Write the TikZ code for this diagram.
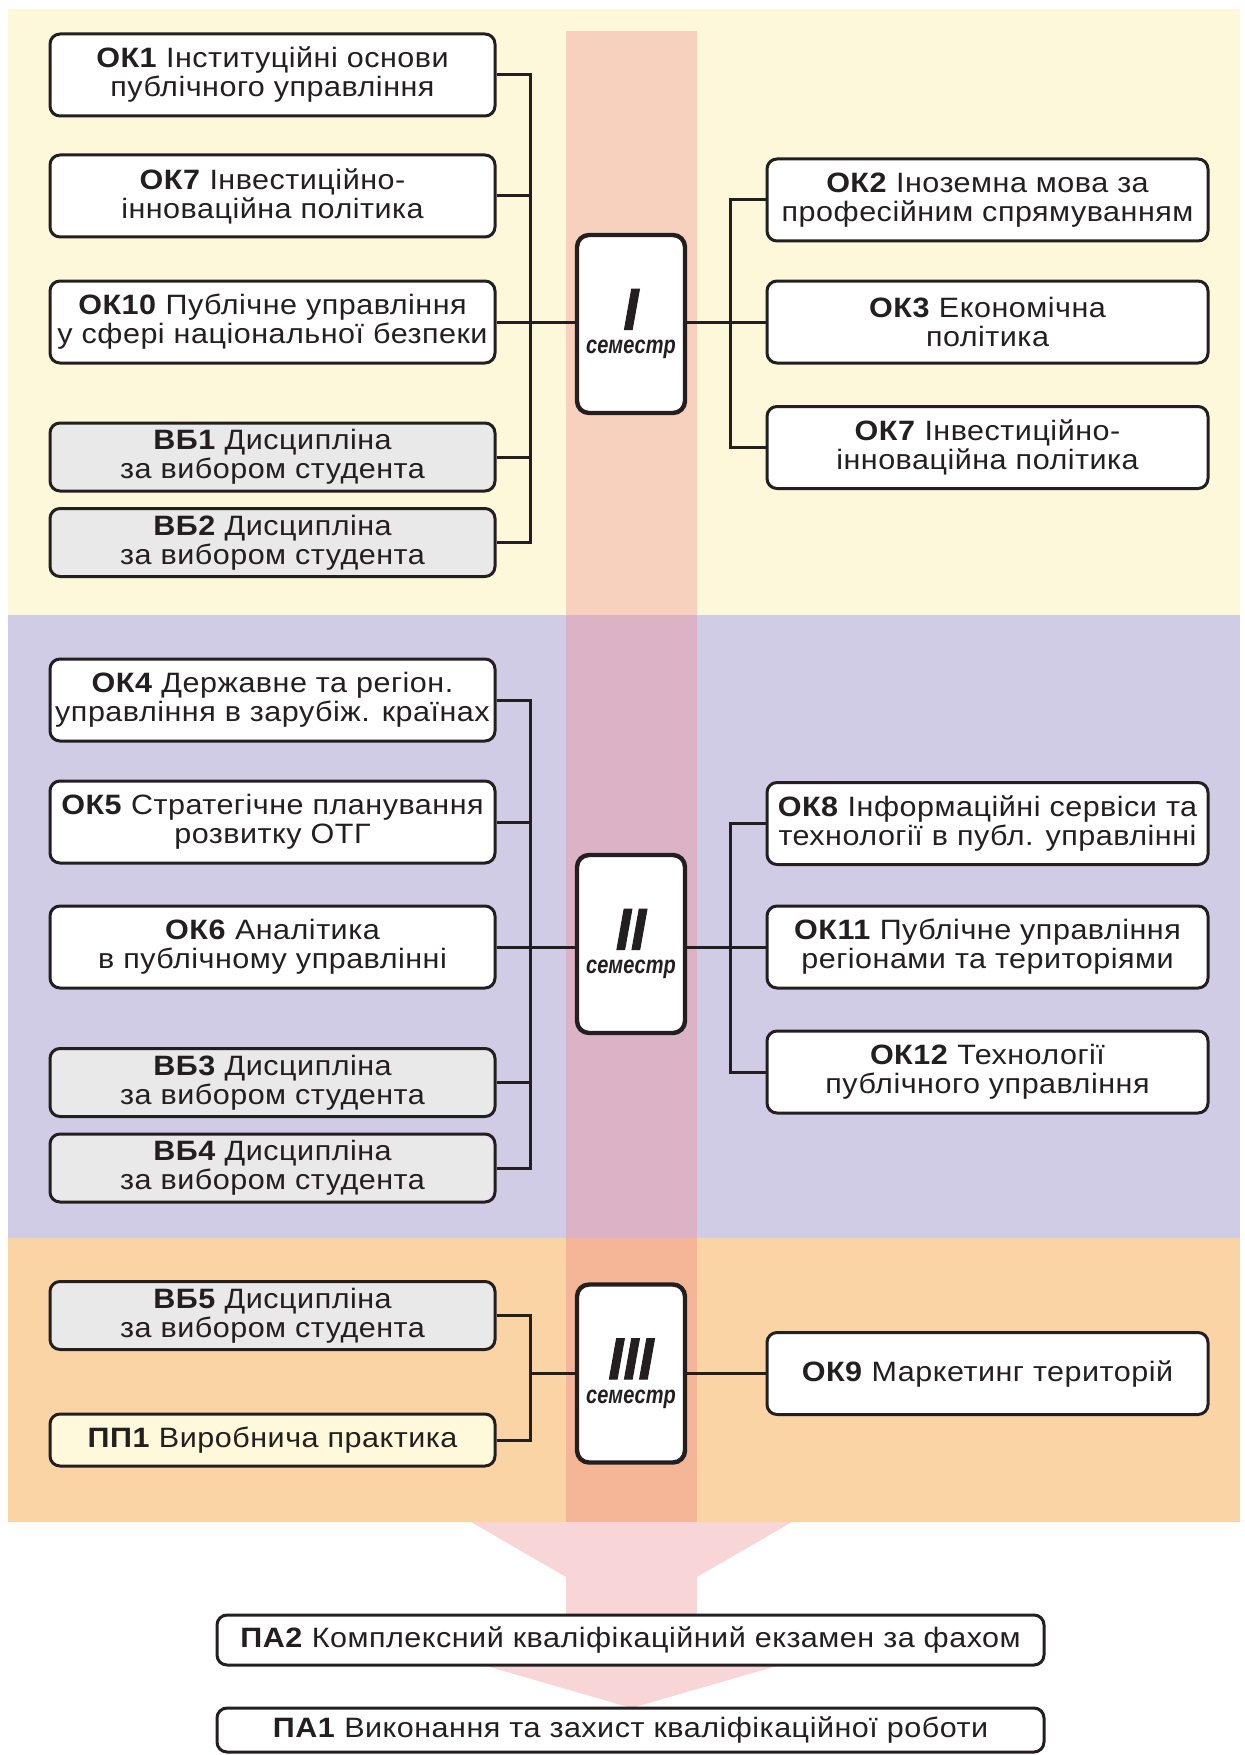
\documentclass[tikz,border=0pt]{standalone}
\usepackage{fontspec}
\setmainfont{Liberation Sans}[FakeStretch=1.09, LetterSpace=1.8]
\newfontfamily\semfont{Liberation Sans}[FakeStretch=0.8]
\newfontfamily\numfont{Liberation Sans}[FakeStretch=0.92, FakeBold=1.6]
\definecolor{ink}{HTML}{231F20}
\definecolor{bgY}{HTML}{FEF8DA}
\definecolor{bgP}{HTML}{D0CCE5}
\definecolor{bgO}{HTML}{FAD4A5}
\definecolor{stY}{HTML}{F8D0BE}
\definecolor{stP}{HTML}{DBB2C6}
\definecolor{stO}{HTML}{F5B597}
\definecolor{fun}{HTML}{F8D6D8}
\definecolor{grayb}{HTML}{E8E9E8}
\definecolor{ppb}{HTML}{FEF9DA}
\newcommand{\semnum}[1]{{\numfont\fontsize{29.5}{29.5}\selectfont\bfseries\itshape #1}}
\begin{document}
\begin{tikzpicture}[x=0.5pt,y=-0.5pt,
  box/.style={draw=ink, line width=1.5pt, rounded corners=5pt, fill=white, text=ink,
    align=center, inner sep=0pt, minimum width=222.5pt, minimum height=41pt,
    font=\fontsize{14}{14.5}\selectfont},
  rbox/.style={box, minimum width=220.5pt},
  vb/.style={box, fill=grayb, minimum height=34pt},
  pp/.style={box, fill=ppb, minimum height=26pt},
  pa/.style={box, minimum width=413.5pt, minimum height=25pt},
  sem/.style={draw=ink, line width=2.2pt, rounded corners=6pt, fill=white, text=ink,
    align=center, inner sep=0pt, minimum width=54pt, minimum height=89pt,
    font=\semfont\fontsize{12.5}{12}\selectfont\bfseries\itshape},
  conn/.style={draw=ink, line width=1.5pt}]
\useasboundingbox (0,0) rectangle (1245,1755);
% backgrounds
\fill[bgY] (8,9) rectangle (1240,615);
\fill[bgP] (8,615) rectangle (1240,1238);
\fill[bgO] (8,1238) rectangle (1240,1522);
\fill[stY] (566,31) rectangle (697,615);
\fill[stP] (566,615) rectangle (697,1238);
\fill[stO] (566,1238) rectangle (697,1522);
\fill[fun] (471,1522) -- (792,1522) -- (697,1577) -- (697,1640) -- (866.5,1640)
  -- (631.5,1708) -- (396.5,1640) -- (566,1640) -- (566,1577) -- cycle;
\coordinate (lb) at (530,0);
\coordinate (rb) at (730,0);
% semester I
\node[box] (l1) at (272.5,75) {\textbf{ОК1} Інституційні основи\\публічного управління};
\node[box] (l2) at (272.5,196) {\textbf{ОК7} Інвестиційно-\\інноваційна політика};
\node[box] (l3) at (272.5,322) {\textbf{ОК10} Публічне управління\\у сфері національної безпеки};
\node[vb] (b1) at (272.5,457) {\textbf{ВБ1} Дисципліна\\за вибором студента};
\node[vb] (b2) at (272.5,542.5) {\textbf{ВБ2} Дисципліна\\за вибором студента};
\node[rbox] (r1) at (987.5,200) {\textbf{ОК2} Іноземна мова за\\професійним спрямуванням};
\node[rbox] (r2) at (987.5,322) {\textbf{ОК3} Економічна\\політика};
\node[rbox] (r3) at (987.5,447.5) {\textbf{ОК7} Інвестиційно-\\інноваційна політика};
\node[sem] (s1) at (631,324) {\semnum{I}\\семестр};
\draw[conn] (l1.east) -- (l1.east -| lb) -- (b2.east -| lb) -- (b2.east);
\draw[conn] (l2.east) -- (l2.east -| lb);
\draw[conn] (b1.east) -- (b1.east -| lb);
\draw[conn] (l3.east) -- (l3.east -| s1.west);
\draw[conn] (s1.east |- r2.west) -- (r2.west);
\draw[conn] (r1.west) -- (r1.west -| rb) -- (r3.west -| rb) -- (r3.west);
% semester II
\node[box] (l4) at (272.5,700) {\textbf{ОК4} Державне та регіон.\\управління в зарубіж. країнах};
\node[box] (l5) at (272.5,822) {\textbf{ОК5} Стратегічне планування\\розвитку ОТГ};
\node[box] (l6) at (272.5,947) {\textbf{ОК6} Аналітика\\в публічному управлінні};
\node[vb] (b3) at (272.5,1082.5) {\textbf{ВБ3} Дисципліна\\за вибором студента};
\node[vb] (b4) at (272.5,1168) {\textbf{ВБ4} Дисципліна\\за вибором студента};
\node[rbox] (r4) at (987.5,823.5) {\textbf{ОК8} Інформаційні сервіси та\\технології в публ. управлінні};
\node[rbox] (r5) at (987.5,947) {\textbf{ОК11} Публічне управління\\регіонами та територіями};
\node[rbox] (r6) at (987.5,1072) {\textbf{ОК12} Технології\\публічного управління};
\node[sem] (s2) at (631,944) {\semnum{II}\\семестр};
\draw[conn] (l4.east) -- (l4.east -| lb) -- (b4.east -| lb) -- (b4.east);
\draw[conn] (l5.east) -- (l5.east -| lb);
\draw[conn] (b3.east) -- (b3.east -| lb);
\draw[conn] (l6.east) -- (l6.east -| s2.west);
\draw[conn] (s2.east |- r5.west) -- (r5.west);
\draw[conn] (r4.west) -- (r4.west -| rb) -- (r6.west -| rb) -- (r6.west);
% semester III
\node[vb] (b5) at (272.5,1315.5) {\textbf{ВБ5} Дисципліна\\за вибором студента};
\node[pp] (p1) at (272.5,1440) {\textbf{ПП1} Виробнича практика};
\node[rbox] (r7) at (987.5,1373.5) {\textbf{ОК9} Маркетинг територій};
\node[sem] (s3) at (631,1373.5) {\semnum{III}\\семестр};
\draw[conn] (b5.east) -- (b5.east -| lb) -- (p1.east -| lb) -- (p1.east);
\draw[conn] (s3.west) -- (s3.west -| lb);
\draw[conn] (s3.east) -- (r7.west);
% final attestation
\node[pa] (a2) at (630.5,1640) {\textbf{ПА2} Комплексний кваліфікаційний екзамен за фахом};
\node[pa, minimum height=22pt] (a1) at (630.5,1730) {\textbf{ПА1} Виконання та захист кваліфікаційної роботи};
\end{tikzpicture}
\end{document}
